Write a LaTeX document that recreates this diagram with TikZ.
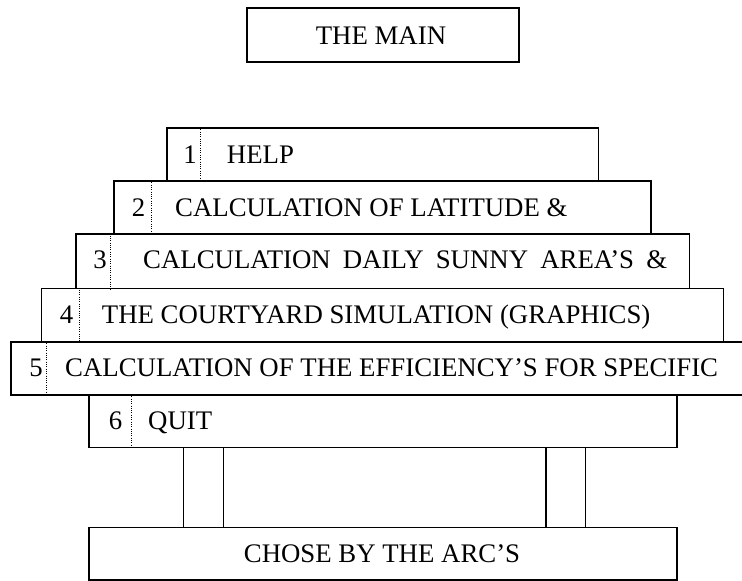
\documentclass[tikz,border=0pt]{standalone}
\usepackage{fontspec}
\setmainfont{Liberation Serif}
\begin{document}
\begin{tikzpicture}[x=1pt,y=-1pt,
  box/.style={draw, line width=1.6pt, inner sep=0pt, anchor=north west},
  lbl/.style={anchor=base west, inner sep=0pt, font=\fontsize{26.8}{30}\selectfont},
  num/.style={anchor=base east, inner sep=0pt, font=\fontsize{26.8}{30}\selectfont},
  sepline/.style={line width=1pt, dash pattern=on 1pt off 1.3pt},
  pillar/.style={line width=1.6pt}]
\clip (0,0) rectangle (742,581);
% title
\node[box, minimum width=272pt, minimum height=54pt] (main) at (246,7) {};
\node[lbl, anchor=base] (tmain) at (381,44) {THE MAIN};
% menu rows
\node[box, minimum width=431.7pt, minimum height=53pt] (b1) at (166,127) {};
\node[box, minimum width=536.7pt, minimum height=53.3pt] (b2) at (113.3,180) {};
\node[box, minimum width=613.4pt, minimum height=54.2pt] (b3) at (75.3,233.3) {};
\node[box, minimum width=682pt, minimum height=53.5pt] (b4) at (40.7,287.5) {};
\node[box, minimum width=744pt, minimum height=53pt] (b5) at (10,341) {};
\node[box, minimum width=588pt, minimum height=52.7pt] (b6) at (88,394) {};
% bottom box
\node[box, minimum width=588pt, minimum height=52.3pt] (b7) at (88,526.7) {};
\node[lbl, anchor=base] (t7) at (382,562) {CHOSE BY THE ARC’S};
% dotted separators
\draw[sepline] (b1.north -| 200.7,0) -- (b1.south -| 200.7,0);
\draw[sepline] (b2.north -| 151,0) -- (b2.south -| 151,0);
\draw[sepline] (b3.north -| 110,0) -- (b3.south -| 110,0);
\draw[sepline] (b4.north -| 79.3,0) -- (b4.south -| 79.3,0);
\draw[sepline] (b5.north -| 46.7,0) -- (b5.south -| 46.7,0);
\draw[sepline] (b6.north -| 131.3,0) -- (b6.south -| 131.3,0);
% numbers
\node[num] (n1) at (197,163) {1};
\node[num] (n2) at (145.5,216.5) {2};
\node[num] (n3) at (107,268.5) {3};
\node[num] (n4) at (73.5,323) {4};
\node[num] (n5) at (43,376.5) {5};
\node[num] (n6) at (122.5,429.5) {6};
% labels
\node[lbl] (t1) at (226.7,163) {HELP};
\node[lbl] (t2) at (175,216.5) {CALCULATION OF LATITUDE \&};
\node[lbl] (t3) at (143,268.5) {\makebox[524pt][s]{CALCULATION DAILY SUNNY AREA’S \&}};
\node[lbl] (t4) at (101.7,323) {THE COURTYARD SIMULATION (GRAPHICS)};
\node[lbl] (t5) at (65,376.5) {CALCULATION OF THE EFFICIENCY’S FOR SPECIFIC};
\node[lbl] (t6) at (148,429.5) {QUIT};
% pillars
\draw[pillar] (b6.south -| 183.5,0) -- (b7.north -| 183.5,0);
\draw[pillar] (b6.south -| 223.5,0) -- (b7.north -| 223.5,0);
\draw[pillar] (b6.south -| 546,0) -- (b7.north -| 546,0);
\draw[pillar] (b6.south -| 585.5,0) -- (b7.north -| 585.5,0);
\end{tikzpicture}
\end{document}
